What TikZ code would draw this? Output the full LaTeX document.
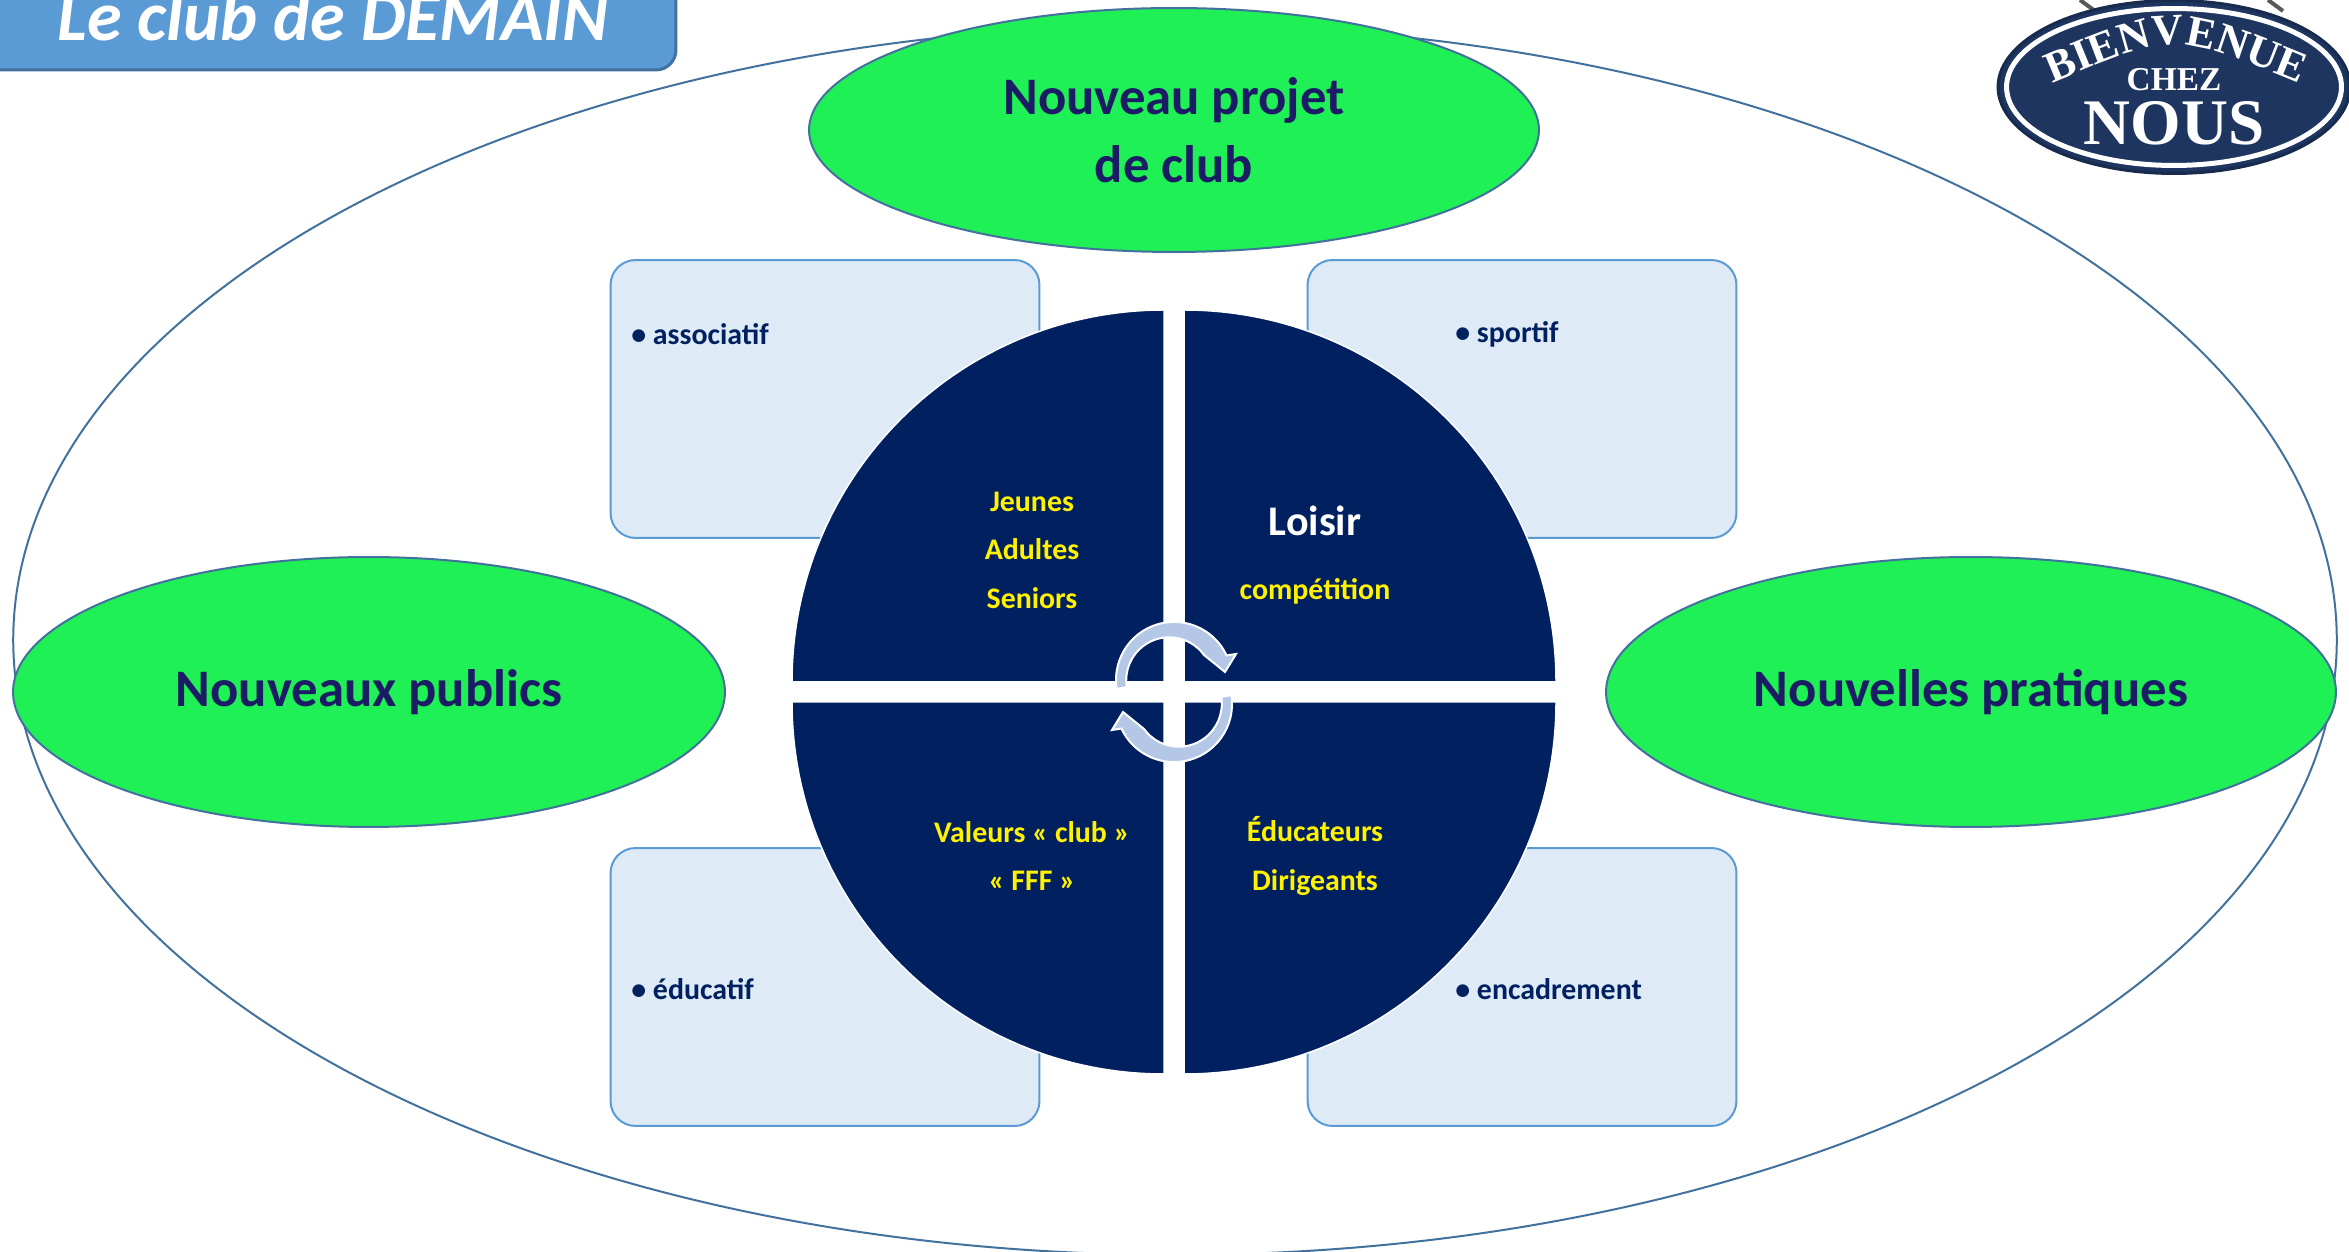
\documentclass[tikz,border=0pt]{standalone}
\usepackage{fontspec}
\setmainfont{Carlito}
\newfontfamily\logofont{Liberation Serif}
\usetikzlibrary{positioning}
\usetikzlibrary{shapes.geometric}
\usetikzlibrary{decorations.text}

\definecolor{navyfill}{HTML}{002060}
\definecolor{headtext}{HTML}{1B1B66}
\definecolor{greenfill}{HTML}{1FF055}
\definecolor{rimblue}{HTML}{41719C}
\definecolor{paleblue}{HTML}{DEEAF6}
\definecolor{midblue}{HTML}{5B9BD5}
\definecolor{arrowblue}{HTML}{B4C7E7}
\definecolor{plateblue}{HTML}{1E3560}

\tikzset{
  goal/.style={ellipse,draw=rimblue,fill=greenfill,line width=.04cm,inner sep=0pt,
    align=center,text=headtext,font=\fontsize{30}{39}\selectfont\bfseries},
  themebox/.style={draw=midblue,fill=paleblue,rounded corners=.5cm,line width=.04cm,
    minimum width=8.58cm,minimum height=5.56cm},
  bullet/.style={anchor=west,text=navyfill,inner sep=0pt,font=\fontsize{17}{20}\selectfont\bfseries},
  quarter/.style={fill=navyfill,draw=white,line width=.03cm},
  yellowlab/.style={align=center,text=yellow,font=\fontsize{17}{27.6}\selectfont\bfseries},
  turn/.style={fill=arrowblue,draw=white,line width=.04cm}
}

\begin{document}
\begin{tikzpicture}[x=.02cm,y=.02cm]
\useasboundingbox (0,0) rectangle (2349,1251);

\def\turnpath{(-57.3,-9) arc (189:25:58) -- (62,26) -- (51,8) -- (30,25) arc (36:189:43) -- cycle}

% outer frame
\node[ellipse,draw=rimblue,line width=.04cm,minimum width=46.48cm,minimum height=24.6cm,inner sep=0pt] (frame) at (1175,611) {};

% title
\node[draw=rimblue,fill=midblue,rounded corners=.4cm,line width=.06cm,minimum width=14.12cm,minimum height=2.8cm] (titlebox) at (323,1251) {};
\node[anchor=base,text=white,font=\fontsize{40}{48}\selectfont\bfseries\itshape] (title) at (333,1210) {Le club de DEMAIN};

% boxes behind the disc
\node[themebox] (boxA) at (825,852) {};
\node[themebox] (boxB) at (1522,852) {};
\node[themebox] (boxC) at (825,264) {};
\node[themebox] (boxD) at (1522,264) {};
\node[bullet] (assoc) at (631,917) {• associatif};
\node[bullet] (sport) at (1455,917) {• sportif};
\node[bullet] (educ) at (631,262) {• éducatif};
\node[bullet] (encad) at (1455,262) {• encadrement};

% green ellipses
\node[goal,minimum width=14.6cm,minimum height=4.88cm] (projet) at (1174,1121) {Nouveau projet\\de club};
\node[goal,minimum width=14.24cm,minimum height=5.4cm] (publics) at (369,559) {Nouveaux publics};
\node[goal,minimum width=14.6cm,minimum height=5.4cm] (pratiques) at (1971,559) {Nouvelles pratiques};

% disc
\draw[quarter] (1164,569) -- (792,569) arc (180:90:372) -- cycle;
\draw[quarter] (1184,569) -- (1184,941) arc (90:0:372) -- cycle;
\draw[quarter] (1164,549) -- (1164,177) arc (270:180:372) -- cycle;
\draw[quarter] (1184,549) -- (1556,549) arc (0:-90:372) -- cycle;

\draw[turn,shift={(1174,571)}] \turnpath;
\draw[turn,shift={(1174,547)},rotate=180] \turnpath;

\node[yellowlab] (ages) at (1032,701) {Jeunes\\Adultes\\Seniors};
\node[text=white,font=\fontsize{24}{28}\selectfont\bfseries] (loisir) at (1315,730) {Loisir};
\node[yellowlab,below=.6cm of loisir] (compet) {compétition};
\node[yellowlab] (valeurs) at (1032,395) {Valeurs « club »\\« FFF »};
\node[yellowlab] (staff) at (1315,395) {Éducateurs\\Dirigeants};

% sign
\draw[gray!70!black,line width=.08cm] (2080,1251) -- (2095,1240) (2268,1251) -- (2283,1240);
\node[ellipse,fill=plateblue,draw=plateblue!80!black,line width=.06cm,minimum width=7.04cm,minimum height=3.46cm,inner sep=0pt] (plate) at (2174,1164) {};
\node[ellipse,draw=white,line width=.1cm,minimum width=6.7cm,minimum height=3.14cm,inner sep=0pt] (platering) at (2174,1164) {};
\path[decorate,decoration={text along path,text align=center,
  text={|\logofont\bfseries\fontsize{25}{28}\selectfont\color{white}|BIENVENUE}}]
  (2055,1169) .. controls (2174,1219) .. (2297,1169);
\node[text=white,font=\logofont\bfseries\fontsize{19}{22}\selectfont] (chez) at (2174,1171) {CHEZ};
\node[text=white,font=\logofont\bfseries\fontsize{37}{40}\selectfont] (nous) at (2174,1128) {NOUS};
\end{tikzpicture}
\end{document}
